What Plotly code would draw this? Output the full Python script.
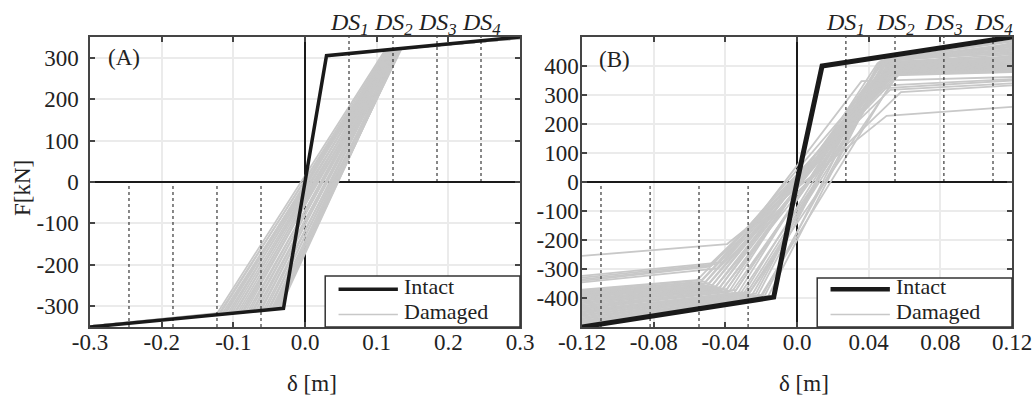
import plotly.graph_objects as go

FONT = "Liberation Serif"
GREY = "rgb(200,200,200)"
DARK = "#1a1a1a"
AXC = "#454545"
GRID = "#ebebeb"
W, H = 1036, 397

# ---------------- Panel A data ----------------
xA_range = [-0.30, 0.30]
yA_range = [-350, 350]
xA_ticks = [-0.3, -0.2, -0.1, 0.0, 0.1, 0.2, 0.3]
xA_ticktext = ["-0.3", "-0.2", "-0.1", "0.0", "0.1", "0.2", "0.3"]
yA_ticks = [-300, -200, -100, 0, 100, 200, 300]
yA_ticktext = ["-300", "-200", "-100", "0", "100", "200", "300"]

intA_x = [-0.30, -0.03, 0.0, 0.03, 0.30]
intA_f = [-350, -305, 0, 305, 350]
dsA = [0.0614, 0.1228, 0.1842, 0.2456]

dmgA_fn_end = [-349, -348, -349, -348, -349, -348, -349, -348, -349, -348, -349, -348,
               -349, -348, -349, -348, -349, -348, -349, -348, -349, -348, -349, -348,
               -349, -348, -349, -348, -349, -348, -349, -348, -349, -348, -349, -348]
dmgA_xn = [-0.124, -0.121, -0.119, -0.116, -0.113, -0.111, -0.108, -0.105, -0.102, -0.099,
           -0.097, -0.094, -0.091, -0.088, -0.086, -0.083, -0.080, -0.077, -0.074, -0.072,
           -0.069, -0.066, -0.063, -0.061, -0.058, -0.055, -0.052, -0.050, -0.047, -0.045,
           -0.043, -0.041, -0.039, -0.037, -0.036, -0.034]
dmgA_fn = [-320.7, -320.2, -319.8, -319.3, -318.8, -318.5, -318.0, -317.5, -317.0, -316.5,
           -316.2, -315.7, -315.2, -314.7, -314.3, -313.8, -313.3, -312.8, -312.3, -312.0,
           -311.5, -311.0, -310.5, -310.2, -309.7, -309.2, -308.7, -308.3, -307.8, -307.5,
           -306.0, -305.0, -304.0, -303.0, -302.0, -301.0]
dmgA_xp = [0.112, 0.118, 0.114, 0.121, 0.116, 0.119, 0.123, 0.115, 0.120, 0.124,
           0.117, 0.122, 0.126, 0.119, 0.125, 0.121, 0.128, 0.123, 0.127, 0.124,
           0.130, 0.126, 0.129, 0.125, 0.131, 0.128, 0.133, 0.127, 0.132, 0.130,
           0.135, 0.129, 0.134, 0.131, 0.133, 0.132]
dmgA_fp = [318.7, 319.7, 319.0, 320.2, 319.3, 319.8, 320.5, 319.2, 320.0, 320.7,
           319.5, 320.3, 321.0, 319.8, 320.8, 320.2, 321.3, 320.5, 321.2, 320.7,
           321.7, 321.0, 321.5, 320.8, 321.8, 321.3, 322.2, 321.2, 322.0, 321.7,
           322.5, 321.5, 322.3, 321.8, 322.2, 322.0]
dmgA_fp_end = [348, 347, 348, 347, 348, 347, 348, 347, 348, 347, 348, 347,
               348, 347, 348, 347, 348, 347, 348, 347, 348, 347, 348, 347,
               348, 347, 348, 347, 348, 347, 348, 347, 348, 347, 348, 347]

# ---------------- Panel B data ----------------
xB_range = [-0.12, 0.12]
yB_range = [-500, 500]
xB_ticks = [-0.12, -0.08, -0.04, 0.0, 0.04, 0.08, 0.12]
xB_ticktext = ["-0.12", "-0.08", "-0.04", "0.0", "0.04", "0.08", "0.12"]
yB_ticks = [-400, -300, -200, -100, 0, 100, 200, 300, 400]
yB_ticktext = ["-400", "-300", "-200", "-100", "0", "100", "200", "300", "400"]

intB_x = [-0.12, -0.013, 0.0, 0.014, 0.12]
intB_f = [-500, -397, 0, 400, 500]
dsB = [0.0273, 0.0547, 0.0820, 0.1094]

dmgB_fn_end = [-494, -490, -486, -482, -478, -474, -470, -466, -462, -458, -454, -450,
               -446, -442, -438, -434, -430, -426, -422, -418, -414, -410, -406, -402,
               -398, -395, -392, -389, -386, -383, -380, -377, -374, -371,
               -255, -324, -330, -336, -341, -346]
dmgB_xn = [-0.016, -0.018, -0.020, -0.022, -0.019, -0.025, -0.027, -0.023, -0.030, -0.028,
           -0.033, -0.031, -0.035, -0.026, -0.038, -0.036, -0.040, -0.034, -0.042, -0.039,
           -0.044, -0.041, -0.046, -0.043, -0.048, -0.045, -0.050, -0.047, -0.052, -0.049,
           -0.054, -0.051, -0.056, -0.053,
           -0.039, -0.041, -0.045, -0.048, -0.050, -0.044]
dmgB_fn = [-393, -392, -390, -391, -388, -389, -386, -385, -387, -383, -384, -380,
           -382, -378, -379, -375, -377, -372, -373, -369, -370, -366, -367, -363,
           -362, -358, -357, -354, -352, -348, -346, -343, -340, -337,
           -214, -276, -283, -289, -293, -298]
dmgB_xp = [0.052, 0.049, 0.058, 0.047, 0.053, 0.050, 0.056, 0.046, 0.051, 0.054,
           0.048, 0.057, 0.050, 0.058, 0.045, 0.055, 0.049, 0.052, 0.058, 0.047,
           0.054, 0.051, 0.056, 0.046, 0.053, 0.050, 0.057, 0.048, 0.055, 0.052,
           0.058, 0.049, 0.056, 0.054,
           0.050, 0.036, 0.040, 0.045, 0.052, 0.058]
dmgB_fp = [425, 422, 395, 418, 424, 420, 426, 415, 421, 423, 417, 425,
           412, 385, 410, 416, 408, 414, 411, 405, 409, 403, 400, 398,
           395, 392, 389, 386, 383, 380, 377, 374, 371, 368,
           228, 348, 330, 322, 318, 310]
dmgB_fp_end = [488, 484, 480, 476, 472, 468, 464, 460, 456, 452, 448, 444,
               440, 436, 433, 429, 425, 421, 418, 414, 410, 406, 403, 399,
               396, 393, 390, 388, 386, 384, 383, 381, 380, 379,
               259, 362, 355, 350, 340, 333]


def polylines(x_lo, x_hi, fn_end, xn, fn, xp, fp, fp_end):
    xs, ys = [], []
    for a, b, c, d, e, f in zip(fn_end, xn, fn, xp, fp, fp_end):
        xs += [x_lo, b, d, x_hi, None]
        ys += [a, c, e, f, None]
    return xs, ys


fig = go.Figure()

ax, ay = polylines(xA_range[0], xA_range[1], dmgA_fn_end, dmgA_xn, dmgA_fn,
                   dmgA_xp, dmgA_fp, dmgA_fp_end)
fig.add_trace(go.Scatter(x=ax, y=ay, mode="lines", name="Damaged",
                         line=dict(color=GREY, width=1.8), showlegend=False,
                         xaxis="x", yaxis="y", hoverinfo="skip"))
fig.add_trace(go.Scatter(x=intA_x, y=intA_f, mode="lines", name="Intact",
                         line=dict(color=DARK, width=3.5), showlegend=False,
                         xaxis="x", yaxis="y"))

bx, by = polylines(xB_range[0], xB_range[1], dmgB_fn_end, dmgB_xn, dmgB_fn,
                   dmgB_xp, dmgB_fp, dmgB_fp_end)
fig.add_trace(go.Scatter(x=bx, y=by, mode="lines", name="Damaged",
                         line=dict(color=GREY, width=1.8), showlegend=False,
                         xaxis="x2", yaxis="y2", hoverinfo="skip"))
fig.add_trace(go.Scatter(x=intB_x, y=intB_f, mode="lines", name="Intact",
                         line=dict(color=DARK, width=5), showlegend=False,
                         xaxis="x2", yaxis="y2"))

ydom = [1 - 327 / H, 1 - 37 / H]
common = dict(showgrid=True, gridcolor=GRID, gridwidth=1.5,
              zeroline=True, zerolinecolor=DARK, zerolinewidth=2,
              showline=True, linecolor=AXC, linewidth=1.5, mirror="ticks",
              ticks="inside", ticklen=5, tickcolor=AXC, tickwidth=1.5,
              tickfont=dict(family=FONT, size=23, color="#222"),
              automargin=False, fixedrange=True)

fig.update_layout(
    width=W, height=H,
    margin=dict(l=0, r=0, t=0, b=0),
    paper_bgcolor="white", plot_bgcolor="white",
    font=dict(family=FONT, size=23, color="#222"),
    showlegend=False,
    xaxis=dict(domain=[90 / W, 520 / W], range=xA_range, tickmode="array",
               tickvals=xA_ticks, ticktext=xA_ticktext, anchor="y",
               ticklabelstandoff=-6, **common),
    yaxis=dict(domain=ydom, range=yA_range, tickmode="array",
               tickvals=yA_ticks, ticktext=yA_ticktext, anchor="x",
               ticklabelstandoff=5, **common),
    xaxis2=dict(domain=[582 / W, 1012 / W], range=xB_range, tickmode="array",
                tickvals=xB_ticks, ticktext=xB_ticktext, anchor="y2",
                ticklabelstandoff=-6, **common),
    yaxis2=dict(domain=ydom, range=yB_range, tickmode="array",
                tickvals=yB_ticks, ticktext=yB_ticktext, anchor="x2",
                ticklabelstandoff=-3, **common),
)

shapes = []
annotations = []
dash_line = dict(color="#111", width=1, dash="3px,3px")
for xr, yr, yrange, ds in (("x", "y", yA_range, dsA), ("x2", "y2", yB_range, dsB)):
    for i, d in enumerate(ds):
        shapes.append(dict(type="line", xref=xr, yref=yr, x0=d, x1=d, y0=0, y1=yrange[1],
                           line=dash_line, layer="above"))
        shapes.append(dict(type="line", xref=xr, yref=yr, x0=-d, x1=-d, y0=yrange[0], y1=0,
                           line=dash_line, layer="above"))
        annotations.append(dict(xref=xr, yref="paper", x=d, y=1 - 24 / H,
                                text=f"<i>DS</i><sub><i>{i + 1}</i></sub>",
                                showarrow=False, xanchor="center", yanchor="middle",
                                font=dict(family=FONT, size=24, color="#222")))

# axis titles
for xc in (312, 804):
    annotations.append(dict(xref="paper", yref="paper", x=xc / W, y=1 - 383 / H,
                            text="δ [m]", showarrow=False, xanchor="center", yanchor="middle",
                            font=dict(family=FONT, size=23, color="#222")))
annotations.append(dict(xref="paper", yref="paper", x=23 / W, y=1 - 188 / H,
                        text="F[kN]", textangle=-90, showarrow=False,
                        xanchor="center", yanchor="middle",
                        font=dict(family=FONT, size=23, color="#222")))

# panel letters
annotations.append(dict(xref="x domain", yref="y domain", x=0.038, y=0.928, text="(A)",
                        showarrow=False, xanchor="left", yanchor="middle",
                        font=dict(family=FONT, size=23, color="#222")))
annotations.append(dict(xref="x2 domain", yref="y2 domain", x=0.036, y=0.922, text="(B)",
                        showarrow=False, xanchor="left", yanchor="middle",
                        font=dict(family=FONT, size=23, color="#222")))

# legend boxes (drawn inside each panel, lower right)
for xr, yr, ytop, wint in (("x domain", "y domain", 0.176, 3.5), ("x2 domain", "y2 domain", 0.169, 4.5)):
    shapes.append(dict(type="rect", xref=xr, yref=yr, x0=0.547, x1=1.0, y0=0.0, y1=ytop,
                       fillcolor="white", line=dict(color="#333", width=1.5), layer="above"))
    shapes.append(dict(type="line", xref=xr, yref=yr, x0=0.578, x1=0.716, y0=0.130, y1=0.130,
                       line=dict(color=DARK, width=wint), layer="above"))
    shapes.append(dict(type="line", xref=xr, yref=yr, x0=0.578, x1=0.716, y0=0.043, y1=0.043,
                       line=dict(color=GREY, width=1.5), layer="above"))
    annotations.append(dict(xref=xr, yref=yr, x=0.725, y=0.138, text="Intact",
                            showarrow=False, xanchor="left", yanchor="middle",
                            font=dict(family=FONT, size=22, color="#222")))
    annotations.append(dict(xref=xr, yref=yr, x=0.725, y=0.052, text="Damaged",
                            showarrow=False, xanchor="left", yanchor="middle",
                            font=dict(family=FONT, size=22, color="#222")))

fig.update_layout(shapes=shapes, annotations=annotations)
fig.write_html("out.html")
